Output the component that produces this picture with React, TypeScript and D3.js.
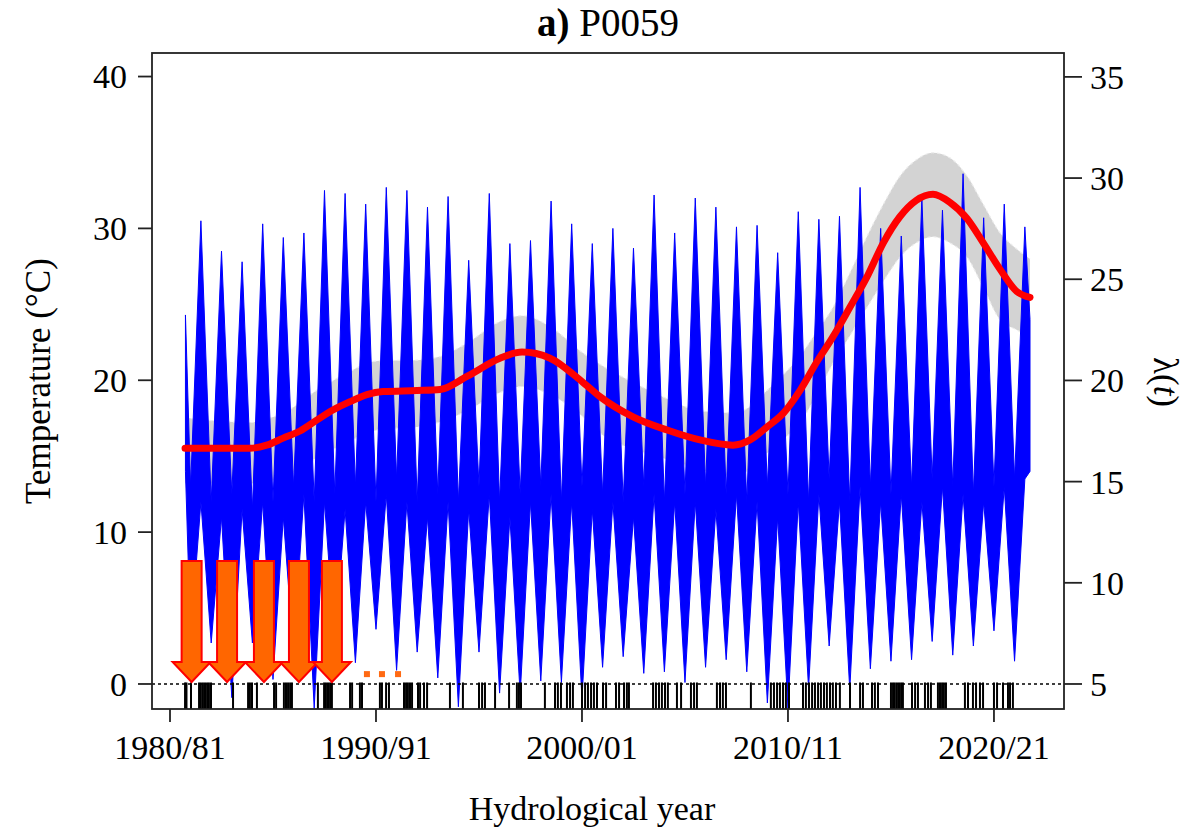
import React from 'react';
import * as d3 from 'd3';

const W = 1204;
const H = 830;
const box = { left: 152, right: 1064, top: 53, bottom: 709 };
const FONT = '"Liberation Serif", "Times New Roman", serif';

// axis ticks
const xTicks = [1980, 1990, 2000, 2010, 2020];
const xTickLabels = ['1980/81', '1990/91', '2000/01', '2010/11', '2020/21'];
const tempTicks = [0, 10, 20, 30, 40];
const lamTicks = [5, 10, 15, 20, 25, 30, 35];

// daily temperature, read as seasonal envelopes (summer = Y + 0.5, winter = Jan of Y)
const seasonYears = d3.range(1981, 2022);
const summerPeak = [30.5, 28.5, 27.8, 30.3, 29.4, 29.7, 32.5, 32.3, 31.6, 32.7, 32.5, 31.4, 32.1, 27.9, 32.3, 29.0, 29.2, 31.8, 30.3, 29.0,
  30.0, 28.7, 32.2, 29.7, 32.0, 31.4, 30.1, 30.2, 28.4, 31.1, 30.6, 30.8, 32.7, 30.0, 29.5, 32.0, 31.2, 33.6, 30.7, 31.6, 30.1];
const summerFloor = [12, 11, 11.5, 12, 11, 12.5, 12, 11.5, 12, 12.5, 12, 11, 12, 11.5, 12.5, 11, 12, 12.5, 12, 11.5,
  12, 11, 12.5, 12, 12, 11.5, 12.5, 12, 11, 12, 12.5, 12, 13, 12, 12.5, 12, 13, 12.5, 12, 13, 13.5];
const winterLow = [3.0, 2.7, -0.9, 2.7, 0.3, 2.0, -1.6, 2.6, 1.4, 3.6, 0.9, 2.1, 0.4, -1.5, 2.1, -0.6, -0.7, 0.2, 0.1, -1.0,
  1.1, 1.8, 0.7, 0.8, 0.1, 1.1, 1.6, 0.8, -1.25, -1.6, -0.3, 2.5, -0.4, 1.0, 1.5, 1.6, 2.8, 1.9, 2.5, 3.5, 1.5];
const winterCeil = [13, 12, 12.5, 11.5, 12, 13, 12, 12.5, 13, 12, 13.5, 12, 12.5, 12, 13, 12, 12.5, 13, 12, 13,
  12.5, 12, 13, 12, 12.5, 13, 12.5, 12, 13, 12.5, 12, 13.5, 12, 13, 12.5, 13, 13.5, 13, 12.5, 13, 13.5];
const seriesStart = { t: 1980.75, hi: 24.3, lo: 14 };
const seriesEnd = { t: 2021.75, hi: 24, lo: 14 };

// lambda(t) fit with confidence band
const lamYears = [1980.73, 1983.88, 1984.69, 1985.49, 1986.31, 1987.14, 1987.93, 1988.74, 1989.56, 1990.34, 1991.99, 1993.11,
  1994.42, 1996.02, 1997.09, 1998.45, 2000.05, 2000.87, 2002.48, 2004.13, 2005.73, 2007.33, 2008.16, 2008.98, 2009.79,
  2010.58, 2011.39, 2012.18, 2013.0, 2013.83, 2014.63, 2015.44, 2016.23, 2017.04, 2017.86, 2018.69, 2019.48, 2020.29,
  2021.1, 2021.75];
const lamFit = [16.65, 16.65, 16.8, 17.15, 17.5, 18.05, 18.55, 18.95, 19.3, 19.45, 19.5, 19.55,
  20.2, 21.1, 21.4, 21.1, 19.9, 19.2, 18.2, 17.55, 17.06, 16.8, 17.06, 17.7, 18.4,
  19.5, 20.9, 22.15, 23.6, 25.1, 26.8, 28.1, 28.9, 29.2, 28.8, 28.0, 26.8, 25.5, 24.4, 24.1];
const lamUpper = [18.15, 17.92, 18.1, 18.38, 18.9, 19.53, 20.0, 20.44, 20.85, 20.98, 21.0, 21.18,
  21.84, 22.91, 23.2, 22.66, 21.35, 20.8, 19.9, 19.1, 18.5, 18.4, 18.7, 19.5, 20.3,
  21.2, 22.4, 23.6, 25.3, 27.1, 28.7, 30.1, 30.9, 31.25, 31.0, 30.1, 28.7, 27.3, 26.5, 26.0];
const lamLower = [14.9, 14.9, 15.0, 15.2, 15.6, 16.2, 16.6, 17.0, 17.4, 17.6, 17.7, 17.95,
  18.5, 19.4, 19.7, 19.3, 18.2, 17.4, 16.6, 16.1, 15.6, 15.3, 15.6, 16.4, 17.1,
  17.9, 19.3, 20.85, 22.2, 23.6, 24.9, 26.1, 26.8, 27.1, 26.8, 26.1, 24.6, 23.0, 22.5, 22.1];

// event times (rug) and highlighted events
const eventYears = [1980.73, 1980.80, 1981.02, 1981.41, 1981.50, 1981.60, 1981.70, 1981.80, 1981.89, 1981.99, 1983.06, 1983.79,
  1983.88, 1983.98, 1984.22, 1985.05, 1985.15, 1985.53, 1985.63, 1985.73, 1985.83, 1985.92, 1987.18, 1987.48, 1987.57,
  1987.67, 1987.77, 1987.86, 1988.74, 1988.84, 1989.22, 1989.32, 1990.19, 1990.29, 1990.49, 1990.63, 1991.36, 1991.46,
  1991.55, 1991.65, 1991.75, 1992.04, 1992.14, 1992.33, 1992.48, 1993.59, 1994.22, 1995.00, 1995.15, 1995.29, 1995.78,
  1996.46, 1996.84, 1996.94, 1997.04, 1998.20, 1998.69, 1998.83, 1998.98, 1999.27, 1999.42, 1999.56, 2000.00, 2000.15,
  2000.29, 2000.44, 2000.58, 2000.73, 2001.02, 2001.17, 2001.65, 2001.80, 2002.04, 2002.18, 2002.28, 2003.45, 2003.59,
  2003.74, 2003.88, 2004.03, 2004.17, 2004.61, 2004.81, 2005.29, 2005.44, 2005.58, 2006.55, 2006.70, 2006.84, 2006.99,
  2008.20, 2009.17, 2009.32, 2009.47, 2009.61, 2009.76, 2009.90, 2010.05, 2010.73, 2010.87, 2011.02, 2011.17, 2011.31,
  2011.46, 2011.60, 2011.75, 2011.89, 2012.04, 2012.18, 2012.33, 2012.52, 2013.01, 2013.50, 2013.64, 2014.08, 2014.22,
  2014.37, 2015.00, 2015.10, 2015.19, 2015.29, 2015.39, 2015.49, 2015.58, 2016.02, 2016.17, 2016.31, 2016.65, 2016.80,
  2016.94, 2017.28, 2017.38, 2017.48, 2017.57, 2017.67, 2018.59, 2018.74, 2018.98, 2019.13, 2019.32, 2019.47, 2020.00,
  2020.15, 2020.44, 2020.68, 2020.78, 2020.92];
const arrowYears = [1981.05, 1982.77, 1984.56, 1986.26, 1987.86];
const dotYears = [1989.56, 1990.29, 1991.07];

const x = d3.scaleLinear().domain([1979.126, 2023.4]).range([box.left, box.right]);
const yT = d3.scaleLinear().domain([-1.647, 41.55]).range([box.bottom, box.top]);
const yL = d3.scaleLinear().domain([3.764, 36.18]).range([box.bottom, box.top]);

export default function App() {
  const blue: { t: number; hi: number; lo: number }[] = [seriesStart];
  seasonYears.forEach((yr, i) => {
    blue.push({ t: yr, hi: winterCeil[i], lo: winterLow[i] });
    blue.push({ t: yr + 0.5, hi: summerPeak[i], lo: summerFloor[i] });
  });
  blue.push(seriesEnd);

  const blueArea = d3.area<{ t: number; hi: number; lo: number }>()
    .x((d) => x(d.t))
    .y0((d) => yT(d.lo))
    .y1((d) => yT(d.hi))
    .curve(d3.curveLinear);

  const band = d3.area<number>()
    .x((d) => x(lamYears[d]))
    .y0((d) => yL(lamLower[d]))
    .y1((d) => yL(lamUpper[d]))
    .curve(d3.curveMonotoneX);
  const idx = lamYears.map((_, i) => i);
  const edge = (arr: number[]) =>
    d3.line<number>().x((d) => x(lamYears[d])).y((d) => yL(arr[d])).curve(d3.curveMonotoneX)(idx) || '';

  const arrow = (yr: number) => {
    const cx = x(yr);
    const top = yT(8.1);
    const base = yT(1.45);
    const tip = yT(0.13);
    const sw = 10;
    const hw = 19;
    return `M${cx - sw},${top}L${cx + sw},${top}L${cx + sw},${base}L${cx + hw},${base}L${cx},${tip}L${cx - hw},${base}L${cx - sw},${base}Z`;
  };

  return (
    <div>
      <style>{`body { margin: 0; }`}</style>
      <svg width={W} height={H} style={{ display: 'block', background: '#fff' }} fontFamily={FONT}>
        <defs>
          <clipPath id="plotClip">
            <rect x={box.left} y={box.top} width={box.right - box.left} height={box.bottom - box.top} />
          </clipPath>
        </defs>

        <g clipPath="url(#plotClip)">
          {/* confidence band */}
          <path d={band(idx) || ''} fill="#d3d3d3" stroke="none" />
          <path d={edge(lamUpper)} fill="none" stroke="#ececec" strokeWidth={1.2} strokeDasharray="3,3" />
          <path d={edge(lamLower)} fill="none" stroke="#ececec" strokeWidth={1.2} strokeDasharray="3,3" />

          {/* temperature series */}
          <path d={blueArea(blue) || ''} fill="#0000ff" stroke="#0000ff" strokeWidth={1} strokeLinejoin="miter" />

          {/* zero line */}
          <line x1={box.left} x2={box.right} y1={yT(0)} y2={yT(0)} stroke="#000" strokeWidth={1.5} strokeDasharray="3,3" />

          {/* rug of events */}
          {eventYears.map((e, i) => (
            <line key={i} x1={x(e)} x2={x(e)} y1={yT(0.1)} y2={box.bottom} stroke="#000" strokeWidth={2} />
          ))}

          {/* lambda(t) */}
          <path
            d={d3.line<number>().x((d) => x(lamYears[d])).y((d) => yL(lamFit[d])).curve(d3.curveMonotoneX)(idx) || ''}
            fill="none"
            stroke="#ff0000"
            strokeWidth={7}
            strokeLinecap="round"
          />

          {arrowYears.map((a, i) => (
            <path key={i} d={arrow(a)} fill="#ff6600" stroke="#ff0000" strokeWidth={2} strokeLinejoin="miter" />
          ))}
          {dotYears.map((a, i) => (
            <rect key={i} x={x(a) - 3} y={yT(0.65) - 3} width={6} height={6} fill="#ff6a13" />
          ))}
        </g>

        {/* frame */}
        <rect x={box.left} y={box.top} width={box.right - box.left} height={box.bottom - box.top} fill="none" stroke="#222" strokeWidth={1.8} />

        {/* left axis */}
        {tempTicks.map((t) => (
          <g key={t}>
            <line x1={box.left - 14} x2={box.left} y1={yT(t)} y2={yT(t)} stroke="#222" strokeWidth={1.8} />
            <text x={box.left - 25} y={yT(t)} dy="0.35em" textAnchor="end" fontSize={34}>{t}</text>
          </g>
        ))}

        {/* right axis */}
        {lamTicks.map((t) => (
          <g key={t}>
            <line x1={box.right} x2={box.right + 18} y1={yL(t)} y2={yL(t)} stroke="#222" strokeWidth={1.8} />
            <text x={box.right + 26} y={yL(t)} dy="0.35em" textAnchor="start" fontSize={34}>{t}</text>
          </g>
        ))}

        {/* bottom axis */}
        {xTicks.map((t, i) => (
          <g key={t}>
            <line x1={x(t)} x2={x(t)} y1={box.bottom} y2={box.bottom + 13} stroke="#222" strokeWidth={1.8} />
            <text x={x(t)} y={759} textAnchor="middle" fontSize={34}>{xTickLabels[i]}</text>
          </g>
        ))}

        {/* titles */}
        <text x={608} y={36} textAnchor="middle" fontSize={39}>
          <tspan fontWeight="bold">a)</tspan> P0059
        </text>
        <text x={592} y={820} textAnchor="middle" fontSize={34}>Hydrological year</text>
        <text transform="translate(50,381) rotate(-90)" textAnchor="middle" fontSize={35}>Temperature (°C)</text>
        <text transform="translate(1154,382) rotate(90)" textAnchor="middle" fontSize={35}>
          λ(<tspan fontStyle="italic">t</tspan>)
        </text>
      </svg>
    </div>
  );
}
